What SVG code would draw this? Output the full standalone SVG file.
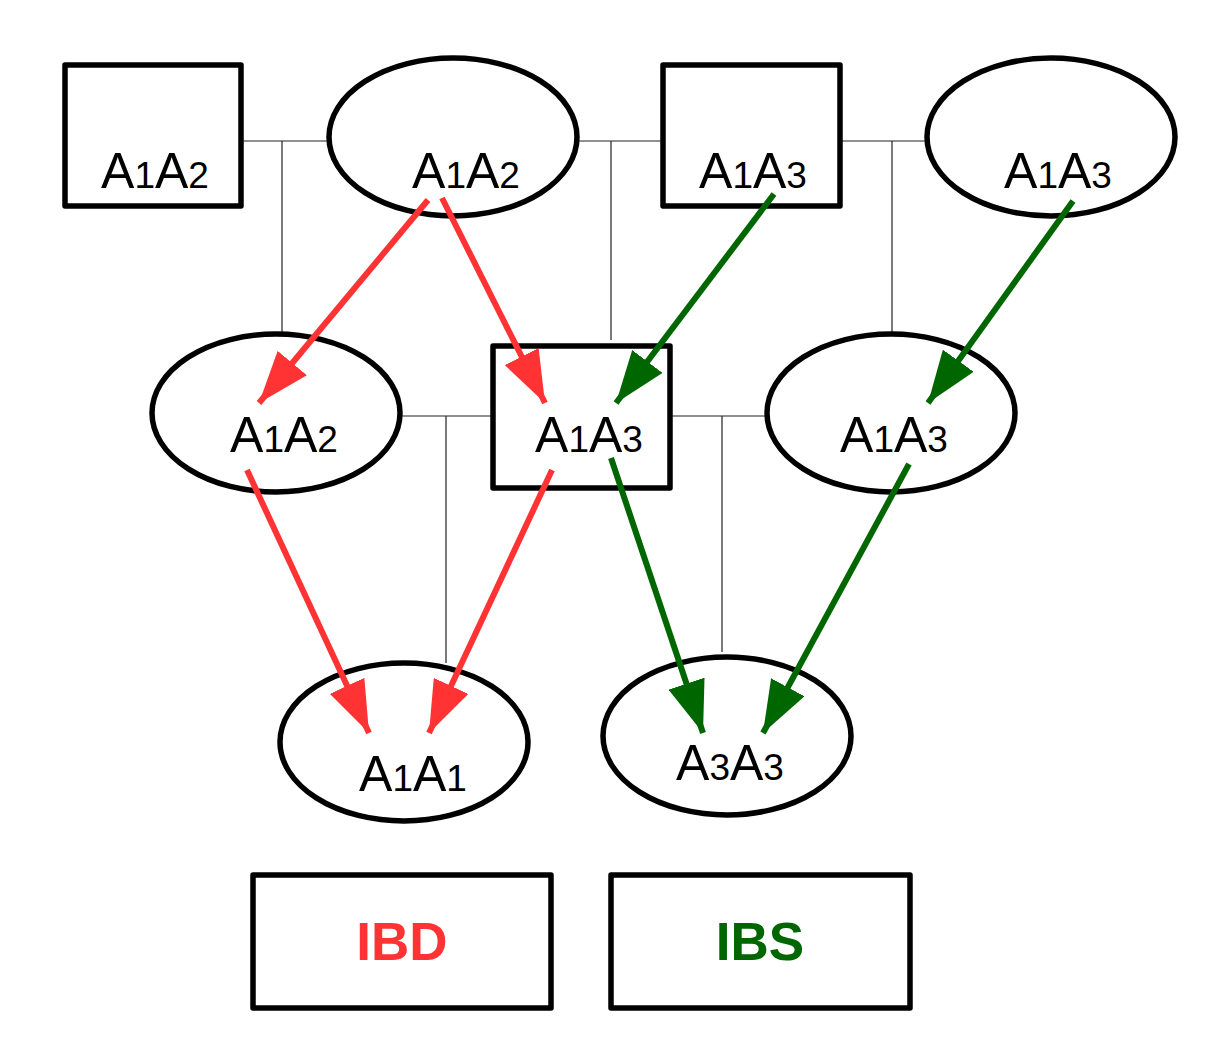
<svg xmlns="http://www.w3.org/2000/svg" width="1232" height="1056" viewBox="0 0 1232 1056">
<style>
.node{fill:#fff;stroke:#000;stroke-width:5.5;stroke-linejoin:round}
.lbl{font-family:"Liberation Sans",Arial,sans-serif;font-size:50px;fill:#000;text-anchor:middle}
.sub{font-size:37px}
.rel{stroke:#222;stroke-width:1.2;fill:none}
.red{stroke:#ff3333;stroke-width:6;fill:none}
.grn{stroke:#006600;stroke-width:6;fill:none}
.leg{font-family:"Liberation Sans",Arial,sans-serif;font-size:53px;font-weight:bold;text-anchor:middle}
</style>
<defs>
<marker id="ar" viewBox="0 0 52 38" refX="52" refY="19" markerWidth="52" markerHeight="38" markerUnits="userSpaceOnUse" orient="auto"><path d="M0,0 L52,19 L0,38 z" fill="#ff3333"/></marker>
<marker id="ag" viewBox="0 0 52 38" refX="52" refY="19" markerWidth="52" markerHeight="38" markerUnits="userSpaceOnUse" orient="auto"><path d="M0,0 L52,19 L0,38 z" fill="#006600"/></marker>
</defs>
<rect width="1232" height="1056" fill="#fff"/>
<g id="relations">
<path class="rel" d="M241,141 H329 M282,141 V334"/>
<path class="rel" d="M577,141 H663 M611,141 V340"/>
<path class="rel" d="M840,141 H927 M892,141 V334"/>
<path class="rel" d="M400,416 H493 M446,416 V663"/>
<path class="rel" d="M670,416 H767 M722,416 V652"/>
</g>
<g id="n1"><rect class="node" x="65" y="65" width="176" height="141"/><text class="lbl" x="155" y="188">A<tspan class="sub">1</tspan>A<tspan class="sub">2</tspan></text></g>
<g id="n2"><ellipse class="node" cx="453" cy="137" rx="124" ry="79"/><text class="lbl" x="466" y="188">A<tspan class="sub">1</tspan>A<tspan class="sub">2</tspan></text></g>
<g id="n3"><rect class="node" x="663" y="65" width="177" height="141"/><text class="lbl" x="753" y="188">A<tspan class="sub">1</tspan>A<tspan class="sub">3</tspan></text></g>
<g id="n4"><ellipse class="node" cx="1051" cy="137" rx="124" ry="79"/><text class="lbl" x="1058" y="188">A<tspan class="sub">1</tspan>A<tspan class="sub">3</tspan></text></g>
<g id="n5"><ellipse class="node" cx="276" cy="413" rx="124" ry="79"/><text class="lbl" x="284" y="452">A<tspan class="sub">1</tspan>A<tspan class="sub">2</tspan></text></g>
<g id="n6"><rect class="node" x="493" y="346" width="177" height="142"/><text class="lbl" x="589" y="452">A<tspan class="sub">1</tspan>A<tspan class="sub">3</tspan></text></g>
<g id="n7"><ellipse class="node" cx="891" cy="413" rx="124" ry="79"/><text class="lbl" x="894" y="452">A<tspan class="sub">1</tspan>A<tspan class="sub">3</tspan></text></g>
<g id="n8"><ellipse class="node" cx="404" cy="742" rx="124" ry="79"/><text class="lbl" x="413" y="791">A<tspan class="sub">1</tspan>A<tspan class="sub">1</tspan></text></g>
<g id="n9"><ellipse class="node" cx="727" cy="736" rx="124" ry="79"/><text class="lbl" x="730" y="780">A<tspan class="sub">3</tspan>A<tspan class="sub">3</tspan></text></g>
<g id="connectors">
<path class="red" d="M428,200 L259,403" marker-end="url(#ar)"/>
<path class="red" d="M442,198 L545,403" marker-end="url(#ar)"/>
<path class="red" d="M247,470 L369,733" marker-end="url(#ar)"/>
<path class="red" d="M552,470 L429,733" marker-end="url(#ar)"/>
<path class="grn" d="M774,194 L616,403" marker-end="url(#ag)"/>
<path class="grn" d="M1073,201 L928,403" marker-end="url(#ag)"/>
<path class="grn" d="M611,458 L703,733" marker-end="url(#ag)"/>
<path class="grn" d="M909,464 L763,733" marker-end="url(#ag)"/>
</g>
<g id="legend-ibd"><rect class="node" x="253" y="875" width="298" height="133"/><text class="leg" x="402" y="960" fill="#ff3333">IBD</text></g>
<g id="legend-ibs"><rect class="node" x="611" y="875" width="299" height="133"/><text class="leg" x="760" y="960" fill="#006600">IBS</text></g>
</svg>
